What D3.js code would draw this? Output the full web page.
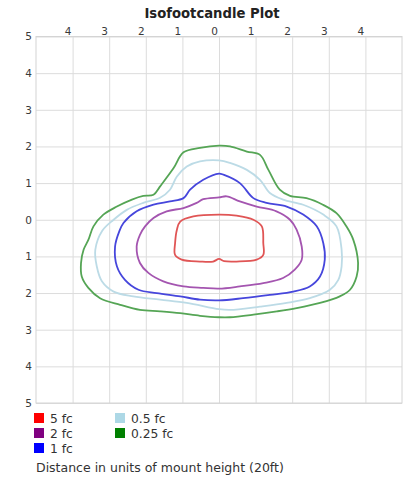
<!DOCTYPE html>
<html><head><meta charset="utf-8">
<script src="https://cdn.jsdelivr.net/npm/d3@7"></script>
<style>
html,body{margin:0;padding:0;background:#fff;}
svg{display:block;font-family:"DejaVu Sans",Verdana,sans-serif;}
</style></head>
<body><svg id="c" width="403" height="482"></svg>
<script>
// ---- data (distance in units of mount height; y positive = behind luminaire) ----
const xTicks = [-4,-3,-2,-1,0,1,2,3,4];
const yTicks = [-5,-4,-3,-2,-1,0,1,2,3,4,5];
const levels = ["5 fc","2 fc","1 fc","0.5 fc","0.25 fc"];
const lineColors = ["#e05555","#a455b0","#4646dc","#bcdbe6","#55a555"];
const legendColors = ["#ff0000","#800080","#0000ff","#add8e6","#008000"];

const fc5 = [[0,0.14],[0.48,0.11],[0.94,0.00],[1.17,-0.18],[1.21,-0.64],[1.21,-0.96],[1.03,-1.09],[0.48,-1.14],[0.14,-1.13],[0,-1.07],[-0.16,-1.14],[-0.52,-1.14],[-1.02,-1.09],[-1.20,-0.96],[-1.20,-0.64],[-1.15,-0.27],[-1.06,-0.05],[-0.70,0.09]];
const fc2 = [[0,0.61],[0.21,0.64],[0.57,0.50],[1.03,0.36],[1.57,0.23],[1.94,0.00],[2.12,-0.27],[2.26,-0.73],[2.26,-1.09],[2.07,-1.36],[1.75,-1.59],[1.21,-1.73],[0.57,-1.82],[0,-1.88],[-0.43,-1.86],[-0.97,-1.82],[-1.52,-1.68],[-1.93,-1.45],[-2.16,-1.18],[-2.25,-0.73],[-2.16,-0.41],[-2.02,-0.18],[-1.79,0.05],[-1.43,0.23],[-0.97,0.32],[-0.61,0.46],[-0.43,0.56]];
const fc1 = [[0,1.26],[0.12,1.23],[0.57,1.00],[0.94,0.59],[1.30,0.46],[1.85,0.36],[2.30,0.14],[2.67,-0.18],[2.85,-0.64],[2.89,-1.09],[2.76,-1.55],[2.48,-1.82],[2.03,-1.96],[1.39,-2.05],[0.66,-2.14],[0,-2.20],[-0.52,-2.18],[-1.06,-2.09],[-1.70,-2.00],[-2.20,-1.91],[-2.57,-1.64],[-2.79,-1.27],[-2.84,-0.73],[-2.73,-0.33],[-2.61,-0.09],[-2.25,0.23],[-1.79,0.41],[-1.34,0.50],[-0.97,0.59],[-0.79,0.82],[-0.43,1.09]];
const fc05 = [[0,1.62],[0.30,1.55],[0.76,1.36],[1.12,1.09],[1.39,0.73],[1.75,0.55],[2.30,0.41],[2.85,0.14],[3.21,-0.18],[3.35,-0.82],[3.35,-1.27],[3.26,-1.64],[3.03,-1.91],[2.48,-2.14],[1.85,-2.27],[1.12,-2.37],[0.30,-2.46],[0,-2.44],[-0.88,-2.27],[-1.61,-2.18],[-2.34,-2.09],[-2.88,-1.96],[-3.20,-1.68],[-3.34,-1.27],[-3.38,-0.82],[-3.19,-0.30],[-2.88,0.00],[-2.52,0.27],[-2.07,0.46],[-1.61,0.60],[-1.34,0.82],[-1.15,1.18],[-0.88,1.45],[-0.52,1.59]];
const fc025 = [[0,2.02],[0.30,2.00],[0.76,1.86],[1.12,1.77],[1.35,1.36],[1.66,0.82],[1.94,0.65],[2.39,0.59],[2.84,0.41],[3.21,0.18],[3.48,-0.18],[3.67,-0.55],[3.80,-1.18],[3.76,-1.55],[3.58,-1.91],[3.30,-2.09],[2.76,-2.27],[2.12,-2.41],[1.58,-2.50],[0.94,-2.59],[0.30,-2.66],[0,-2.66],[-0.52,-2.62],[-1.06,-2.55],[-1.61,-2.50],[-2.16,-2.46],[-2.70,-2.32],[-3.25,-2.14],[-3.57,-1.86],[-3.75,-1.55],[-3.77,-1.18],[-3.70,-0.82],[-3.57,-0.55],[-3.43,-0.18],[-3.16,0.14],[-2.79,0.36],[-2.38,0.55],[-2.07,0.65],[-1.79,0.68],[-1.61,0.91],[-1.24,1.41],[-0.97,1.84],[-0.52,1.96]];
const contours = [fc5, fc2, fc1, fc05, fc025];
const title = "Isofootcandle Plot";
const footer = "Distance in units of mount height (20ft)";

// ---- drawing ----
const svg = d3.select("#c");
const L = 36, R = 402, T = 36.5, B = 403;
const x = d3.scaleLinear().domain([-5,5]).range([L,R]);
const y = d3.scaleLinear().domain([5,-5]).range([T,B]);

svg.append("text").attr("x",212).attr("y",17.5).attr("text-anchor","middle")
  .attr("font-weight","bold").attr("font-size",13.2).attr("fill","#222").text(title);

// x grid + labels
const gx = svg.append("g").attr("transform",`translate(0,${T})`)
  .call(d3.axisTop(x).tickValues(xTicks).tickSize(-(B-T)).tickPadding(2)
    .tickFormat(d=>Math.abs(d)));
gx.select(".domain").remove();
gx.selectAll(".tick line").attr("stroke","#dcdcdc");
gx.selectAll(".tick text").attr("dx",-5).attr("font-size",10.5).attr("fill","#3a3a3a")
  .attr("font-family","DejaVu Sans, sans-serif");

// y grid + labels
const gy = svg.append("g").attr("transform",`translate(${L},0)`)
  .call(d3.axisLeft(y).tickValues(yTicks).tickSize(-(R-L)).tickPadding(4)
    .tickFormat(d=>Math.abs(d)));
gy.select(".domain").remove();
gy.selectAll(".tick line").attr("stroke","#dcdcdc");
gy.selectAll(".tick text").attr("font-size",10.5).attr("fill","#3a3a3a")
  .attr("font-family","DejaVu Sans, sans-serif");

svg.append("rect").attr("x",L).attr("y",T).attr("width",R-L).attr("height",B-T)
  .attr("fill","none").attr("stroke","#d4d4d4");

// contours (draw outer first)
const line = d3.line().x(d=>x(d[0])).y(d=>y(d[1])).curve(d3.curveCatmullRomClosed.alpha(0.5));
const order = [4,3,2,1,0];
svg.append("g").selectAll("path").data(order).join("path")
  .attr("d",i=>line(contours[i])).attr("fill","none")
  .attr("stroke",i=>lineColors[i]).attr("stroke-width",1.8)
  .attr("stroke-linejoin","round");

// legend
const pos = [[34,413],[34,428],[34,443],[115,413],[115,428]];
const lg = svg.append("g").selectAll("g").data(levels).join("g")
  .attr("transform",(d,i)=>`translate(${pos[i][0]},${pos[i][1]})`);
lg.append("rect").attr("width",10).attr("height",10).attr("fill",(d,i)=>legendColors[i]);
lg.append("text").attr("x",16).attr("y",9.8).attr("font-size",12.3).attr("fill","#333").text(d=>d);

svg.append("text").attr("x",36).attr("y",471.5).attr("font-size",12.5).attr("fill","#333").text(footer);
</script></body></html>
